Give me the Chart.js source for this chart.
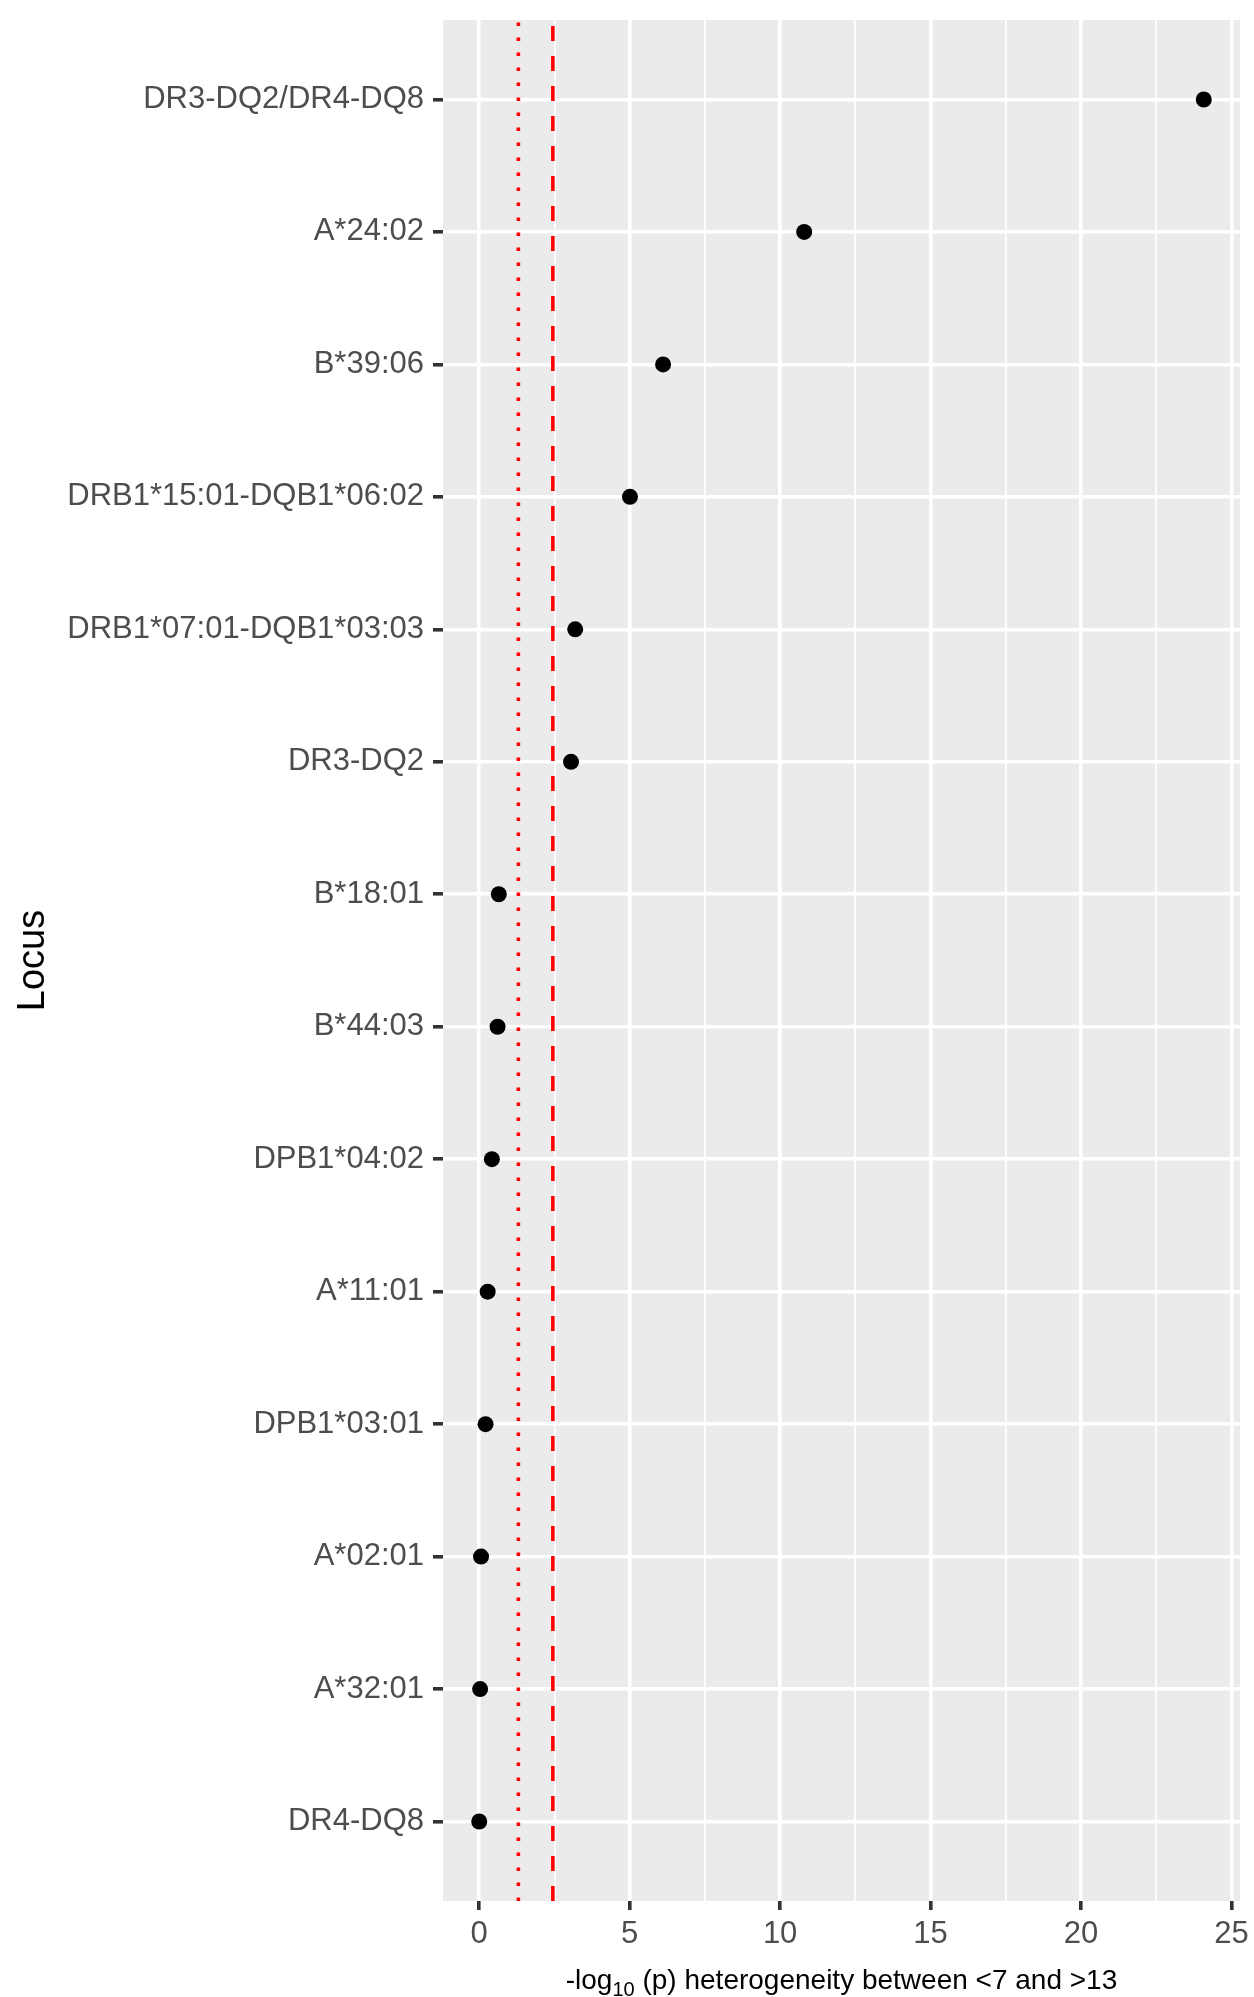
<!DOCTYPE html>
<html>
<head>
<meta charset="utf-8">
<script src="https://cdn.jsdelivr.net/npm/chart.js@4/dist/chart.umd.min.js"></script>
<style>
  html, body { margin: 0; padding: 0; background: #ffffff; }
  #wrap { width: 1254px; height: 1997px; position: relative; }
</style>
</head>
<body>
<div id="wrap"><canvas id="chart" width="1254" height="1997"></canvas></div>
<script>
// HLA loci, top to bottom
const categories = [
  'DR3-DQ2/DR4-DQ8',
  'A*24:02',
  'B*39:06',
  'DRB1*15:01-DQB1*06:02',
  'DRB1*07:01-DQB1*03:03',
  'DR3-DQ2',
  'B*18:01',
  'B*44:03',
  'DPB1*04:02',
  'A*11:01',
  'DPB1*03:01',
  'A*02:01',
  'A*32:01',
  'DR4-DQ8'
];
// -log10(p) for heterogeneity between age groups <7 and >13
const heterogeneity = [24.08, 10.80, 6.11, 5.01, 3.19, 3.05, 0.65, 0.61, 0.42, 0.28, 0.21, 0.06, 0.03, 0.00];
// x-axis breaks (labelled) and the minor breaks between them
const xMajorTicks = [0, 5, 10, 15, 20, 25];
const xMinorTicks = [2.5, 7.5, 12.5, 17.5, 22.5];
// significance thresholds: nominal p = 0.05 and Bonferroni-corrected 0.05 / 14
const nominalLine = -Math.log10(0.05);
const bonferroniLine = -Math.log10(0.05 / categories.length);

// ggplot-style expansion of the continuous and discrete ranges
const xMaxData = Math.max(...heterogeneity);
const xMinData = Math.min(0, ...heterogeneity);
const xPad = (xMaxData - xMinData) * 0.05;
const yPad = 0.6;

const points = heterogeneity.map((v, i) => ({ x: v, y: i }));
const yLow = -yPad, yHigh = categories.length - 1 + yPad;

const PANEL_BG = '#EBEBEB';
const FONT = '"Liberation Sans", Arial, sans-serif';

const panelPlugin = {
  id: 'panel',
  beforeDraw(chart) {
    const { ctx, chartArea: a } = chart;
    ctx.save();
    ctx.fillStyle = PANEL_BG;
    ctx.fillRect(a.left, a.top, a.right - a.left, a.bottom - a.top);
    ctx.restore();
  }
};

// x-axis title with a real subscript in "log10"
const xTitlePlugin = {
  id: 'xTitle',
  afterDraw(chart) {
    const { ctx, chartArea: a } = chart;
    const size = 28, subSize = 20;
    const parts = [
      { t: '-log', f: size, dy: 0 },
      { t: '10', f: subSize, dy: 7 },
      { t: ' (p) heterogeneity between <7 and >13', f: size, dy: 0 }
    ];
    ctx.save();
    ctx.fillStyle = '#000000';
    ctx.textBaseline = 'alphabetic';
    ctx.textAlign = 'left';
    let total = 0;
    parts.forEach(p => {
      ctx.font = p.f + 'px ' + FONT;
      p.w = ctx.measureText(p.t).width;
      total += p.w;
    });
    let x = (a.left + a.right) / 2 - total / 2;
    const baseline = 1989;
    parts.forEach(p => {
      ctx.font = p.f + 'px ' + FONT;
      ctx.fillText(p.t, x, baseline + p.dy);
      x += p.w;
    });
    ctx.restore();
  }
};

const isMajor = v => xMajorTicks.includes(v);

new Chart(document.getElementById('chart'), {
  type: 'scatter',
  data: {
    datasets: [
      {
        label: 'heterogeneity',
        data: points,
        pointRadius: 8,
        pointHoverRadius: 8,
        pointBackgroundColor: '#000000',
        pointBorderWidth: 0,
        showLine: false,
        order: 2
      },
      {
        label: 'p = 0.05',
        type: 'line',
        data: [{ x: nominalLine, y: yHigh }, { x: nominalLine, y: yLow }],
        borderColor: '#FF0000',
        borderWidth: 3.6,
        borderDash: [3.6, 11.4],
        borderCapStyle: 'butt',
        pointRadius: 0,
        fill: false,
        order: 1
      },
      {
        label: 'Bonferroni',
        type: 'line',
        data: [{ x: bonferroniLine, y: yHigh }, { x: bonferroniLine, y: yLow }],
        borderColor: '#FF0000',
        borderWidth: 3.6,
        borderDash: [15, 15],
        borderCapStyle: 'butt',
        pointRadius: 0,
        fill: false,
        order: 1
      }
    ]
  },
  options: {
    responsive: false,
    animation: false,
    events: [],
    layout: { padding: { top: 20, right: 14, bottom: 0, left: 0 } },
    plugins: {
      legend: { display: false },
      tooltip: { enabled: false }
    },
    scales: {
      x: {
        type: 'linear',
        position: 'bottom',
        min: xMinData - xPad,
        max: xMaxData + xPad,
        afterBuildTicks(scale) {
          scale.ticks = [...xMajorTicks, ...xMinorTicks]
            .sort((p, q) => p - q)
            .map(v => ({ value: v }));
        },
        afterFit(scale) {
          scale.height = 96;
          scale.paddingLeft = 0;
          scale.paddingRight = 0;
        },
        border: { display: false },
        grid: {
          color: '#FFFFFF',
          lineWidth: c => (isMajor(c.tick.value) ? 3.6 : 1.8),
          drawTicks: true,
          tickLength: 9,
          tickColor: c => (isMajor(c.tick.value) ? '#333333' : 'rgba(0,0,0,0)'),
          tickWidth: 3.6
        },
        ticks: {
          autoSkip: false,
          maxRotation: 0,
          padding: 6,
          color: '#4D4D4D',
          font: { family: FONT, size: 31 },
          callback: v => (isMajor(v) ? String(v) : '')
        }
      },
      y: {
        type: 'linear',
        position: 'left',
        reverse: true,
        min: yLow,
        max: yHigh,
        afterBuildTicks(scale) {
          scale.ticks = categories.map((_, i) => ({ value: i }));
        },
        afterFit(scale) {
          scale.width = 443;
          scale.paddingTop = 0;
          scale.paddingBottom = 0;
        },
        border: { display: false },
        grid: {
          color: '#FFFFFF',
          lineWidth: 3.6,
          drawTicks: true,
          tickLength: 10,
          tickColor: '#333333',
          tickWidth: 3.6
        },
        ticks: {
          autoSkip: false,
          padding: 9,
          color: '#4D4D4D',
          font: { family: FONT, size: 31 },
          callback: v => categories[v]
        },
        title: {
          display: true,
          text: 'Locus',
          color: '#000000',
          font: { family: FONT, size: 38 },
          padding: { top: 11, bottom: 0 }
        }
      }
    }
  },
  plugins: [panelPlugin, xTitlePlugin]
});
</script>
</body>
</html>
